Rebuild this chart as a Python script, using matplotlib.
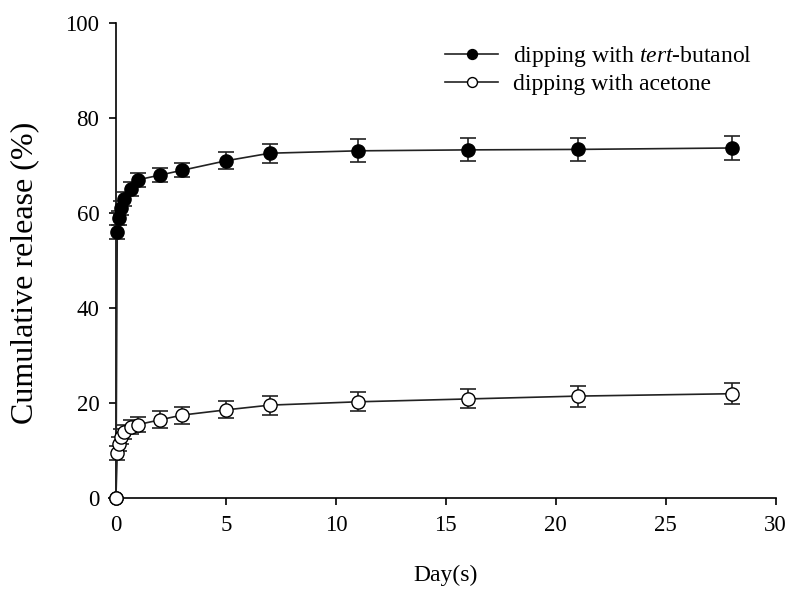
import matplotlib
matplotlib.use('Agg')
import matplotlib.pyplot as plt

plt.rcParams['font.family'] = ['Liberation Serif', 'DejaVu Serif']
plt.rcParams['mathtext.fontset'] = 'custom'
plt.rcParams['mathtext.rm'] = 'Liberation Serif'
plt.rcParams['mathtext.it'] = 'Liberation Serif:italic'

# release data
days = [0, 0.06, 0.14, 0.23, 0.38, 0.67, 1, 2, 3, 5, 7, 11, 16, 21, 28]
tert_butanol = [0, 56.0, 59.0, 61.0, 63.0, 65.0, 67.0, 68.0, 69.0, 71.0, 72.6, 73.1, 73.3, 73.4, 73.7]
tert_butanol_err = [0, 1.5, 1.5, 1.5, 1.5, 1.5, 1.5, 1.5, 1.5, 1.8, 2.0, 2.4, 2.4, 2.5, 2.5]
acetone = [0, 9.5, 11.5, 13.0, 14.0, 15.0, 15.5, 16.5, 17.5, 18.6, 19.6, 20.3, 20.9, 21.5, 22.0]
acetone_err = [0, 1.5, 1.5, 1.5, 1.5, 1.5, 1.6, 1.8, 1.8, 1.8, 2.0, 2.0, 2.0, 2.2, 2.2]

fig = plt.figure(figsize=(7.94, 5.89), dpi=100)
ax = fig.add_axes([0.146, 0.154, 0.831, 0.807])

ax.errorbar(days, tert_butanol, yerr=tert_butanol_err, color='#222222', lw=1.2,
            marker='o', ms=9.5, mfc='black', mec='black', capsize=6, elinewidth=1.2,
            capthick=1.2, label='dipping with $\\it{tert}$-butanol', zorder=3)
ax.errorbar(days, acetone, yerr=acetone_err, color='#222222', lw=1.2,
            marker='o', ms=9.5, mfc='white', mec='black', capsize=6, elinewidth=1.2,
            capthick=1.2, label='dipping with acetone', zorder=3)

ax.set_xlim(0, 30)
ax.set_ylim(0, 100)
ax.set_xticks(range(0, 31, 5))
ax.set_yticks(range(0, 101, 20))
for s in ['top', 'right']:
    ax.spines[s].set_visible(False)
for s in ['left', 'bottom']:
    ax.spines[s].set_linewidth(1.2)
ax.tick_params(direction='out', length=5, width=1.2, labelsize=16.5, pad=7)
ax.set_xlabel('Day(s)', fontsize=17, labelpad=21)
ax.set_ylabel('Cumulative release (%)', fontsize=23)
ax.yaxis.set_label_coords(-0.117, 0.474)

handles, labels = ax.get_legend_handles_labels()
handles = [h[0] for h in handles]
leg = ax.legend(handles, labels, loc='upper right', bbox_to_anchor=(0.997, 1.0), frameon=False,
                fontsize=17, handlelength=2.25, handletextpad=0.65, labelspacing=0.2,
                markerscale=0.75)

for line in ax.get_lines():
    line.set_clip_on(False)
for c in ax.collections:
    c.set_clip_on(False)

fig.savefig('out.png', dpi=100)
